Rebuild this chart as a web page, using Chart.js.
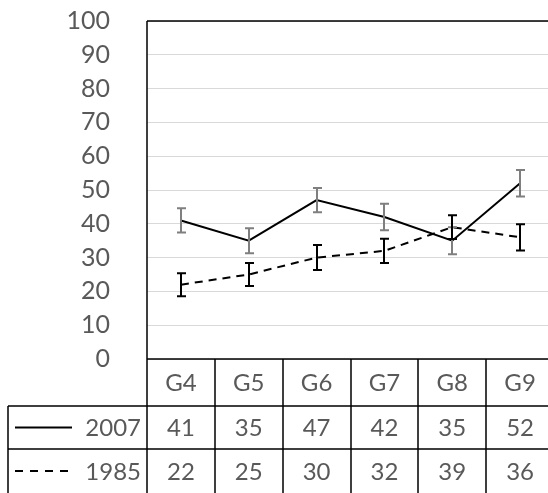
<!DOCTYPE html>
<html>
<head>
<meta charset="utf-8">
<script src="https://cdn.jsdelivr.net/npm/chart.js@4"></script>
<style>
  html, body { margin: 0; padding: 0; background: #fff; overflow: hidden; }
  #wrap { width: 548px; height: 493px; overflow: hidden; }
</style>
</head>
<body>
<div id="wrap"><canvas id="chart" width="556" height="493"></canvas></div>
<script>
// data
const categories = ["G4", "G5", "G6", "G7", "G8", "G9"];
const values2007 = [41, 35, 47, 42, 35, 52];
const values1985 = [22, 25, 30, 32, 39, 36];
const err2007 = [3.6, 3.7, 3.6, 3.9, 4.0, 3.9];
const err1985 = [3.4, 3.4, 3.7, 3.6, 3.5, 3.9];
const seriesNames = ["2007", "1985"];

const FONT = "Lato, 'Open Sans', sans-serif";
const TEXT = "#595959";

// --- error bars ---
const errorBars = {
  id: "errorBars",
  afterDatasetsDraw(chart) {
    const ctx = chart.ctx;
    const x = chart.scales.x, y = chart.scales.y;
    const sets = [
      { vals: values2007, errs: err2007, color: "#7f7f7f" },
      { vals: values1985, errs: err1985, color: "#000" },
    ];
    ctx.save();
    ctx.lineWidth = 2;
    sets.forEach((s) => {
      ctx.strokeStyle = s.color;
      s.vals.forEach((v, i) => {
        const px = Math.round(x.getPixelForValue(i));
        const top = y.getPixelForValue(v + s.errs[i]);
        const bot = y.getPixelForValue(v - s.errs[i]);
        ctx.beginPath();
        ctx.moveTo(px, top); ctx.lineTo(px, bot);
        ctx.moveTo(px - 4, top); ctx.lineTo(px + 5, top);
        ctx.moveTo(px - 4, bot); ctx.lineTo(px + 5, bot);
        ctx.stroke();
      });
    });
    ctx.restore();
  },
};

// --- frame + data table under the plot ---
const dataTable = {
  id: "dataTable",
  afterDraw(chart) {
    const ctx = chart.ctx;
    const a = chart.chartArea;
    const x = chart.scales.x;
    const n = categories.length;
    const colW = (a.right - a.left) / n;
    const rowTop = [a.bottom, 406, 449];
    const rowBot = [406, 449, 493];
    const keyLeft = 8;

    ctx.save();
    ctx.strokeStyle = "#000";
    ctx.lineWidth = 1.5;
    ctx.beginPath();
    // plot box
    ctx.moveTo(a.left, a.top); ctx.lineTo(a.right, a.top);
    ctx.moveTo(a.left, a.top); ctx.lineTo(a.left, 493);
    ctx.moveTo(a.left, a.bottom); ctx.lineTo(a.right, a.bottom);
    ctx.moveTo(a.right, a.top); ctx.lineTo(a.right, 493);
    // table rows
    ctx.moveTo(keyLeft, 406); ctx.lineTo(a.right, 406);
    ctx.moveTo(keyLeft, 449); ctx.lineTo(a.right, 449);
    ctx.moveTo(keyLeft, 406); ctx.lineTo(keyLeft, 493);
    for (let i = 1; i < n; i++) {
      const bx = Math.round(a.left + colW * i);
      ctx.moveTo(bx, a.bottom); ctx.lineTo(bx, 493);
    }
    ctx.stroke();

    ctx.fillStyle = TEXT;
    ctx.font = "24px " + FONT;
    ctx.textAlign = "center";
    ctx.textBaseline = "middle";
    const rows = [categories, values2007, values1985];
    rows.forEach((row, r) => {
      const cy = (rowTop[r] + rowBot[r]) / 2 + 1;
      row.forEach((v, i) => {
        ctx.fillText(String(v), x.getPixelForValue(i), cy);
      });
    });

    // legend keys
    ctx.textAlign = "right";
    seriesNames.forEach((name, k) => {
      const cy = (rowTop[k + 1] + rowBot[k + 1]) / 2 + 1;
      ctx.fillText(name, a.left - 6, cy);
      ctx.beginPath();
      ctx.lineWidth = 2;
      ctx.setLineDash(k === 0 ? [] : [8, 7]);
      ctx.moveTo(15, cy - 1); ctx.lineTo(k === 0 ? 72 : 68, cy - 1);
      ctx.stroke();
    });
    ctx.restore();
  },
};

new Chart(document.getElementById("chart"), {
  type: "line",
  data: {
    labels: categories,
    datasets: [
      {
        label: seriesNames[0],
        data: values2007,
        borderColor: "#000",
        borderWidth: 2,
        pointRadius: 0,
        tension: 0,
      },
      {
        label: seriesNames[1],
        data: values1985,
        borderColor: "#000",
        borderWidth: 2,
        borderDash: [8, 6],
        pointRadius: 0,
        tension: 0,
      },
    ],
  },
  options: {
    responsive: false,
    animation: false,
    layout: { padding: { top: 21, bottom: 134, left: 0, right: 2 } },
    plugins: { legend: { display: false }, tooltip: { enabled: false } },
    scales: {
      x: { display: false, offset: true },
      y: {
        min: 0,
        max: 100,
        ticks: {
          stepSize: 10,
          color: TEXT,
          font: { family: FONT, size: 25 },
          padding: 37,
        },
        grid: { color: "#d9d9d9", lineWidth: 1, drawTicks: false },
        border: { display: false },
        afterFit: (s) => {
          s.width = 147;
          s.paddingTop = 0;
          s.paddingBottom = 0;
        },
      },
    },
  },
  plugins: [errorBars, dataTable],
});
</script>
</body>
</html>
